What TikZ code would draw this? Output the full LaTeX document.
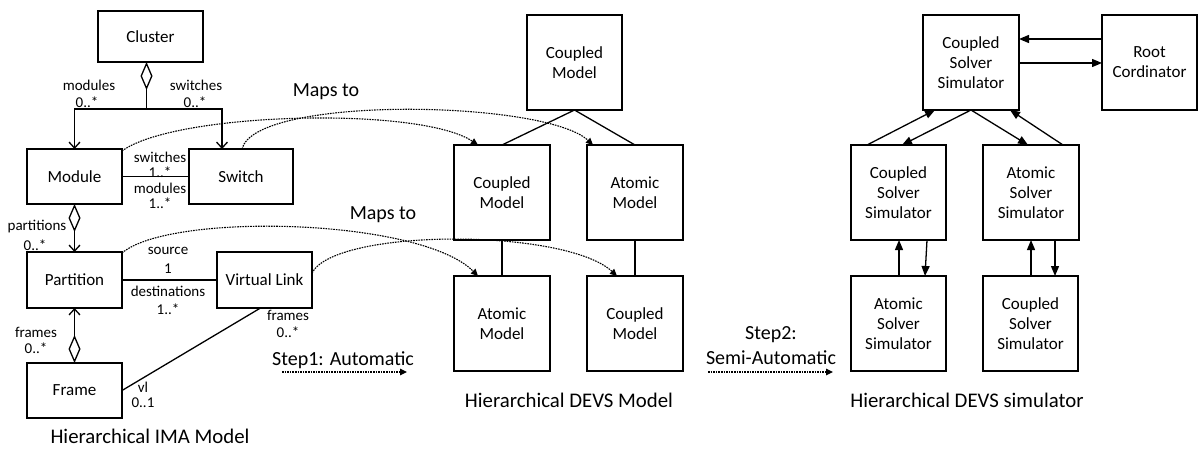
\documentclass[tikz,border=0pt]{standalone}
\usepackage{fontspec}
\setmainfont{Carlito}
\usetikzlibrary{arrows.meta,calc}
\begin{document}
\begin{tikzpicture}[x=1pt,y=-1pt,
  box/.style={draw,line width=1.3pt,rectangle,inner sep=0pt,outer sep=0pt,align=center,font=\fontsize{17}{20}\selectfont},
  lab/.style={inner sep=0pt,font=\fontsize{15}{16}\selectfont},
  captxt/.style={inner sep=0pt,align=center,font=\fontsize{20}{23}\selectfont},
  bigcap/.style={captxt,font=\fontsize{20.8}{23}\selectfont},
  conn/.style={line width=1.3pt},
  barb/.style={conn,-{Straight Barb[length=6pt,width=11pt,line width=1.3pt]}},
  aggr/.style={conn,{Diamond[open,length=28pt,width=12pt,line width=1.3pt]}-{Straight Barb[length=6pt,width=11pt,line width=1.3pt]}},
  diam/.style={conn,{Diamond[open,length=28pt,width=12pt,line width=1.3pt]}-},
  arr/.style={conn,-{Triangle[length=10pt,width=8pt]}},
  mapto/.style={line width=1.1pt,dash pattern=on 1.6pt off 1pt,-{Triangle[length=7pt,width=6.5pt]}},
]
\useasboundingbox (0,0) rectangle (1201,449);

% ---------- IMA model ----------
\node[box,minimum width=105pt,minimum height=51pt] (cluster) at (150.5,36.5) {Cluster};
\node[box,minimum width=95pt,minimum height=55pt] (module) at (74.5,176.5) {Module};
\node[box,minimum width=104pt,minimum height=55pt] (switch) at (241,176.5) {Switch};
\node[box,minimum width=95pt,minimum height=56pt] (partition) at (74.5,280) {Partition};
\node[box,minimum width=95pt,minimum height=56pt] (vlink) at (264.5,280) {Virtual Link};
\node[box,minimum width=95pt,minimum height=55pt] (frame) at (74.5,390.5) {Frame};

\coordinate (cs) at ($(cluster.south)+(-4,0)$);
\coordinate (j) at ($(cluster.south)+(-4,47)$);
\coordinate (swin) at ($(switch.north west)+(33,0)$);
\draw[diam] (cs) -- (j);
\draw[barb] (j) -| (module.north);
\draw[barb] (j) -| (swin);
\draw[conn] (module.east) -- (switch.west);
\draw[aggr] (module.south) -- (partition.north);
\draw[conn] (partition.east) -- (vlink.west);
\draw[aggr] (frame.north) -- (partition.south);
\coordinate (vls) at ($(vlink.south)+(-4,0)$);
\draw[conn] (frame.east) -- (vls);

\node[lab] (l1) at (89,85) {modules};
\node[lab] (l2) at (87,102) {0..*};
\node[lab] (l3) at (196,85) {switches};
\node[lab] (l4) at (195,102) {0..*};
\node[lab] (l5) at (160,157) {switches};
\node[lab] (l6) at (160,172) {1..*};
\node[lab] (l7) at (160,188) {modules};
\node[lab] (l8) at (160,203) {1..*};
\node[lab] (l9) at (37,227) {partitions};
\node[lab] (l10) at (35,245) {0..*};
\node[lab] (l11) at (168,251) {source};
\node[lab] (l12) at (168,269) {1};
\node[lab] (l13) at (168,291) {destinations};
\node[lab] (l14) at (168,309) {1..*};
\node[lab] (l15) at (36,332) {frames};
\node[lab] (l16) at (36,348) {0..*};
\node[lab] (l17) at (288,315) {frames};
\node[lab] (l18) at (288,332) {0..*};
\node[lab] (l19) at (143,387) {vl};
\node[lab] (l20) at (143,403) {0..1};
\node[bigcap] (c1) at (150,436) {Hierarchical IMA Model};

% ---------- DEVS model ----------
\node[box,minimum width=95pt,minimum height=95pt] (cmTop) at (574.5,62.5) {Coupled\\Model};
\node[box,minimum width=96pt,minimum height=95pt] (cmL) at (502,192.5) {Coupled\\Model};
\node[box,minimum width=96pt,minimum height=95pt] (amR) at (635,192.5) {Atomic\\Model};
\node[box,minimum width=96pt,minimum height=95pt] (amL) at (502,323.5) {Atomic\\Model};
\node[box,minimum width=96pt,minimum height=95pt] (cmR) at (635,323.5) {Coupled\\Model};
\draw[conn] (cmTop.south) -- (cmL.north);
\draw[conn] (cmTop.south) -- (amR.north);
\draw[conn] (cmL.south) -- (amL.north);
\draw[conn] (amR.south) -- (cmR.north);
\node[bigcap] (c2) at (569,400) {Hierarchical DEVS Model};

% maps to
\node[captxt] (m1) at (326,92) {Maps to};
\node[captxt] (m2) at (383,215) {Maps to};
\draw[mapto] ($(module.north east)+(0,2)$) .. controls (175,112) and (420,106) .. ($(cmL.north west)+(24,0)$);
\draw[mapto] ($(switch.north west)+(53,0)$) .. controls (255,95) and (545,100) .. ($(amR.north west)+(6,0)$);
\draw[mapto] ($(partition.north east)+(0,1)$) .. controls (170,212) and (420,218) .. ($(amL.north west)+(24,0)$);
\draw[mapto] ($(vlink.east)+(0,-7)$) .. controls (335,228) and (565,228) .. ($(cmR.north west)+(30,0)$);

% step 1
\node[captxt] (s1) at (343,360) {Step1: Automatic};
\coordinate (s1a) at (282,372);
\coordinate (s1b) at (407,372);
\draw[mapto] (s1a) -- (s1b);

% ---------- DEVS simulator ----------
\node[box,minimum width=96pt,minimum height=95pt] (cssTop) at (971,62.5) {Coupled\\Solver\\Simulator};
\node[box,minimum width=95pt,minimum height=95pt] (root) at (1149.5,62.5) {Root\\Cordinator};
\node[box,minimum width=95pt,minimum height=95pt] (cssL) at (898.5,192.5) {Coupled\\Solver\\Simulator};
\node[box,minimum width=96pt,minimum height=95pt] (assR) at (1031,192.5) {Atomic\\Solver\\Simulator};
\node[box,minimum width=95pt,minimum height=95pt] (assL) at (898.5,323.5) {Atomic\\Solver\\Simulator};
\node[box,minimum width=95pt,minimum height=95pt] (cssR) at (1030.5,323.5) {Coupled\\Solver\\Simulator};

\draw[arr] ($(root.north west)+(0,24)$) -- ($(cssTop.north east)+(0,24)$);
\draw[arr] ($(cssTop.north east)+(0,48)$) -- ($(root.north west)+(0,48)$);
\draw[arr] ($(cssL.north west)+(16,0)$) -- ($(cssTop.south west)+(12,0)$);
\draw[arr] (cssTop.south) -- ($(cssL.north west)+(51,0)$);
\draw[arr] (cssTop.south) -- ($(assR.north west)+(45,0)$);
\draw[arr] ($(assR.north west)+(80,0)$) -- ($(cssTop.south west)+(87,0)$);
\draw[arr] ($(assL.north west)+(48,0)$) -- ($(cssL.south west)+(48,0)$);
\draw[arr] ($(cssL.south west)+(76,0)$) -- ($(assL.north west)+(74,0)$);
\draw[arr] ($(cssR.north west)+(48,0)$) -- ($(assR.south west)+(48,0)$);
\draw[arr] ($(assR.south west)+(72,0)$) -- ($(cssR.north west)+(72,0)$);
\node[bigcap] (c3) at (967,400) {Hierarchical DEVS simulator};

% step 2
\node[captxt] (s2) at (771,335) {Step2:};
\node[captxt] (s3) at (771,358) {Semi-Automatic};
\coordinate (s2a) at (708,372);
\coordinate (s2b) at (833,372);
\draw[mapto] (s2a) -- (s2b);
\end{tikzpicture}
\end{document}
